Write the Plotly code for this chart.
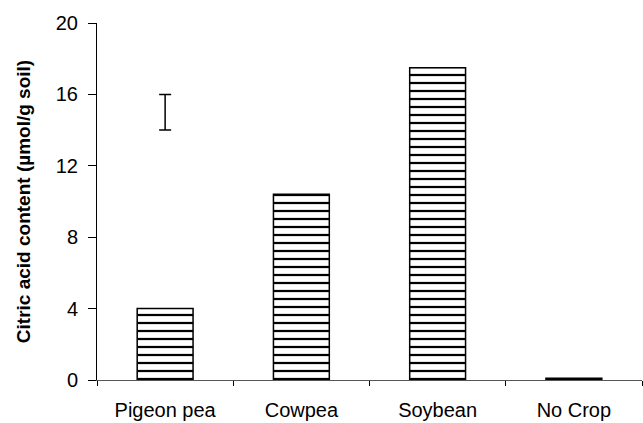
import plotly.graph_objects as go

categories = ["Pigeon pea", "Cowpea", "Soybean", "No Crop"]
citric_acid = [4.0, 10.4, 17.5, 0.1]
lsd_category = ["Pigeon pea"]
lsd_center = [15.0]
lsd_half = [1.0]
y_ticks = [0, 4, 8, 12, 16, 20]

FONT = "Liberation Sans, Arial, sans-serif"

fig = go.Figure()
fig.add_trace(go.Bar(
    x=categories, y=citric_acid, width=0.41,
    marker=dict(
        color="white",
        line=dict(color="black", width=1.5),
        pattern=dict(shape="-", size=8, solidity=0.28, fgcolor="black", bgcolor="white", fillmode="replace"),
    ),
    showlegend=False, hoverinfo="skip",
))
fig.add_trace(go.Scatter(
    x=lsd_category, y=lsd_center, mode="markers",
    marker=dict(size=1, opacity=0),
    error_y=dict(type="data", array=lsd_half, visible=True, color="black", thickness=1.5, width=6),
    showlegend=False, hoverinfo="skip",
))

fig.update_layout(
    width=643, height=423,
    margin=dict(l=97, r=1, t=23, b=43),
    paper_bgcolor="white", plot_bgcolor="white",
    font=dict(family=FONT, size=20, color="black"),
)
fig.update_xaxes(
    range=[-0.5, 3.5], showline=True, linecolor="#555", linewidth=1,
    ticks="outside", tickson="boundaries", ticklen=5, tickcolor="black", tickwidth=1,
    showgrid=False, zeroline=False, ticklabelstandoff=12,
    tickfont=dict(family=FONT, size=20),
)
fig.update_yaxes(
    range=[0, 20], tickvals=y_ticks, showline=True, linecolor="black", linewidth=1,
    ticks="outside", ticklen=8, tickcolor="black", tickwidth=1,
    showgrid=False, zeroline=False, ticklabelstandoff=6,
    tickfont=dict(family=FONT, size=20),
    title=dict(text="<b>Citric acid content (µmol/g soil)</b>", font=dict(family=FONT, size=19), standoff=20),
)

fig.write_html(
    "out.html",
    config={"displayModeBar": False},
    post_script="document.body.style.margin='0';document.body.style.overflow='hidden';",
)
